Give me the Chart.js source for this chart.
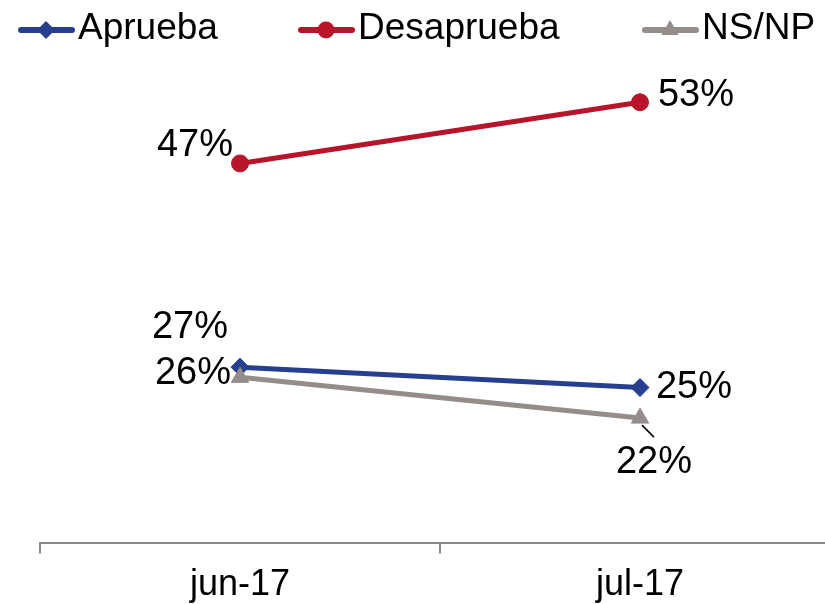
<!DOCTYPE html>
<html>
<head>
<meta charset="utf-8">
<script src="https://cdn.jsdelivr.net/npm/chart.js@4.4.1/dist/chart.umd.min.js"></script>
<style>
  html, body { margin: 0; padding: 0; background: #fff; overflow: hidden; }
  #chart { display: block; }
</style>
</head>
<body>
<canvas id="chart" width="860" height="604"></canvas>
<script>
// Data
const months = ["jun-17", "jul-17"];
const seriesNames = ["Aprueba", "Desaprueba", "NS/NP"];
const aprueba = [27, 25];
const desaprueba = [47, 53];
const nsnp = [26, 22];

const FONT = "'Liberation Sans', Arial, sans-serif";
const colors = ["#263F8E", "#B8142A", "#958D8A"];
const markers = ["rectRot", "circle", "triangle"];
const markerSize = [9, 8.5, 10];

// label placement relative to each point (dx, dy)
const labelOffsets = [
  [[-50, -40], [54, 0]],
  [[-45, -18], [56, -7]],
  [[-47, -4], [14, 44]]
];
// leader line for the 22% label
const leaders = [[], [], [null, [2, 7, 14, 19]]];

// Legend positions (line start x)
const legendX = [18, 298, 642];
const legendY = 30;

function drawMarker(ctx, style, x, y, r) {
  ctx.beginPath();
  if (style === "rectRot") {
    ctx.moveTo(x - r, y); ctx.lineTo(x, y - r);
    ctx.lineTo(x + r, y); ctx.lineTo(x, y + r);
  } else if (style === "circle") {
    ctx.arc(x, y, r, 0, Math.PI * 2);
  } else {
    const h = r * Math.sqrt(3) / 2;
    ctx.moveTo(x, y - r); ctx.lineTo(x + h, y + r / 2); ctx.lineTo(x - h, y + r / 2);
  }
  ctx.closePath();
  ctx.fill();
}

// Custom legend (line + marker + text)
const legendPlugin = {
  id: "lineLegend",
  afterDraw(chart) {
    const ctx = chart.ctx;
    ctx.save();
    seriesNames.forEach((name, i) => {
      const x0 = legendX[i];
      ctx.strokeStyle = colors[i];
      ctx.fillStyle = colors[i];
      ctx.lineWidth = 6;
      ctx.lineCap = "round";
      ctx.beginPath();
      ctx.moveTo(x0 + 3, legendY);
      ctx.lineTo(x0 + 54, legendY);
      ctx.stroke();
      drawMarker(ctx, markers[i], x0 + 28, legendY, markerSize[i]);
      ctx.fillStyle = "#000";
      ctx.font = "37px " + FONT;
      ctx.textAlign = "left";
      ctx.textBaseline = "middle";
      ctx.fillText(name, x0 + 60, legendY - 1);
    });
    ctx.restore();
  }
};

// Data labels
const labelPlugin = {
  id: "pctLabels",
  afterDatasetsDraw(chart) {
    const ctx = chart.ctx;
    ctx.save();
    ctx.font = "38px " + FONT;
    ctx.fillStyle = "#000";
    ctx.textAlign = "center";
    ctx.textBaseline = "middle";
    chart.data.datasets.forEach((ds, i) => {
      const meta = chart.getDatasetMeta(i);
      meta.data.forEach((pt, j) => {
        const off = labelOffsets[i][j];
        ctx.fillText(ds.data[j] + "%", pt.x + off[0], pt.y + off[1]);
        const ld = leaders[i][j];
        if (ld) {
          ctx.strokeStyle = "#000";
          ctx.lineWidth = 1.5;
          ctx.beginPath();
          ctx.moveTo(pt.x + ld[0], pt.y + ld[1]);
          ctx.lineTo(pt.x + ld[2], pt.y + ld[3]);
          ctx.stroke();
        }
      });
    });
    ctx.restore();
  }
};

const seriesData = [aprueba, desaprueba, nsnp];
const datasets = seriesData.map((d, i) => ({
  label: seriesNames[i],
  data: d,
  borderColor: colors[i],
  backgroundColor: colors[i],
  borderWidth: 5,
  pointStyle: markers[i],
  pointRadius: markerSize[i],
  pointBackgroundColor: colors[i],
  pointBorderColor: colors[i],
  pointBorderWidth: 1,
  tension: 0,
  order: 3 - i
}));

new Chart(document.getElementById("chart"), {
  type: "line",
  data: { labels: months, datasets },
  options: {
    responsive: false,
    devicePixelRatio: 1,
    animation: false,
    events: [],
    layout: { padding: { left: 40, right: 20, top: 31, bottom: -13 } },
    plugins: { legend: { display: false }, tooltip: { enabled: false } },
    scales: {
      x: {
        offset: true,
        grid: {
          offset: true,
          drawOnChartArea: false,
          drawTicks: true,
          tickLength: 10,
          color: "#888",
          lineWidth: 2
        },
        border: { color: "#888", width: 2 },
        ticks: {
          color: "#000",
          padding: 12,
          font: { family: FONT, size: 36, lineHeight: 1.1 }
        }
      },
      y: {
        display: false,
        min: 9.7,
        max: 60
      }
    }
  },
  plugins: [legendPlugin, labelPlugin]
});
</script>
</body>
</html>
